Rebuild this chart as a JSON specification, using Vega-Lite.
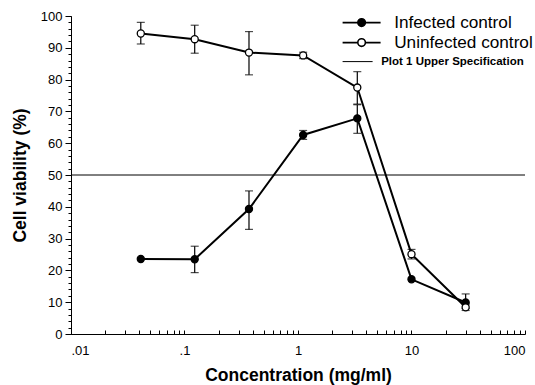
{
  "$schema": "https://vega.github.io/schema/vega-lite/v6.json",
  "width": 454,
  "height": 318,
  "autosize": {"type": "none"},
  "padding": {"left": 71, "top": 16, "right": 10, "bottom": 51},
  "background": "white",
  "config": {
    "view": {"stroke": null},
    "font": "Liberation Sans",
    "axis": {"labelFont": "Liberation Sans", "titleFont": "Liberation Sans", "domainColor": "black", "tickColor": "black", "labelColor": "black", "titleColor": "black", "grid": false}
  },
  "resolve": {"axis": {"y": "independent"}},
  "datasets": {
    "main": [
      {"series": "Infected control", "conc": 0.0412, "v": 23.6, "lo": null, "hi": null},
      {"series": "Infected control", "conc": 0.123, "v": 23.5, "lo": 19.3, "hi": 27.6},
      {"series": "Infected control", "conc": 0.37, "v": 39.3, "lo": 32.9, "hi": 45.0},
      {"series": "Infected control", "conc": 1.11, "v": 62.6, "lo": 61.2, "hi": 64.0},
      {"series": "Infected control", "conc": 3.33, "v": 67.8, "lo": 63.1, "hi": 72.1},
      {"series": "Infected control", "conc": 10, "v": 17.2, "lo": null, "hi": null},
      {"series": "Infected control", "conc": 30, "v": 9.9, "lo": 8.0, "hi": 12.6},
      {"series": "Uninfected control", "conc": 0.0412, "v": 94.5, "lo": 91.2, "hi": 98.0},
      {"series": "Uninfected control", "conc": 0.123, "v": 92.7, "lo": 88.3, "hi": 97.1},
      {"series": "Uninfected control", "conc": 0.37, "v": 88.5, "lo": 81.5, "hi": 95.1},
      {"series": "Uninfected control", "conc": 1.11, "v": 87.6, "lo": 86.6, "hi": 88.6},
      {"series": "Uninfected control", "conc": 3.33, "v": 77.5, "lo": 72.3, "hi": 82.5},
      {"series": "Uninfected control", "conc": 10, "v": 25.1, "lo": 23.6, "hi": 26.6},
      {"series": "Uninfected control", "conc": 30, "v": 8.4, "lo": 7.4, "hi": 9.4}
    ],
    "spec": [{"level": 50}]
  },
  "layer": [
    {
      "data": {"name": "spec"},
      "mark": {"type": "rule", "color": "black", "strokeWidth": 1},
      "encoding": {
        "y": {"field": "level", "type": "quantitative", "scale": {"domain": [0, 100]},
          "axis": {"orient": "left", "values": [0,2,4,6,8,12,14,16,18,22,24,26,28,32,34,36,38,42,44,46,48,52,54,56,58,62,64,66,68,72,74,76,78,82,84,86,88,92,94,96,98], "labels": false, "tickSize": 3, "title": null, "domain": true}}
      }
    },
    {
      "data": {"name": "main"},
      "transform": [{"filter": "datum.lo != null"}],
      "mark": {"type": "errorbar", "color": "black", "thickness": 1.2, "ticks": {"size": 8, "thickness": 1.2, "color": "black"}},
      "encoding": {
        "x": {"field": "conc", "type": "quantitative"},
        "y": {"field": "lo", "type": "quantitative", "axis": null},
        "y2": {"field": "hi"}
      }
    },
    {
      "data": {"name": "main"},
      "mark": {"type": "line", "color": "black", "strokeWidth": 2},
      "encoding": {
        "x": {"field": "conc", "type": "quantitative"},
        "y": {"field": "v", "type": "quantitative", "axis": null},
        "detail": {"field": "series"}
      }
    },
    {
      "data": {"name": "main"},
      "mark": {"type": "point", "shape": "circle", "filled": true, "stroke": "black", "strokeWidth": 1.3, "size": 50, "opacity": 1},
      "encoding": {
        "x": {"field": "conc", "type": "quantitative",
          "scale": {"type": "log", "domain": [0.01, 100]},
          "axis": {"values": [0.01,0.02,0.03,0.04,0.05,0.06,0.07,0.08,0.09,0.1,0.2,0.3,0.4,0.5,0.6,0.7,0.8,0.9,1,2,3,4,5,6,7,8,9,10,20,30,40,50,60,70,80,90,100],
            "labelExpr": "datum.value == 0.01 ? '.01' : datum.value == 0.1 ? '.1' : datum.value == 1 ? '1' : datum.value == 10 ? '10' : datum.value == 100 ? '100' : ''",
            "tickSize": -4, "labelPadding": 14, "labelFontSize": 13, "labelOverlap": false,
            "title": "Concentration (mg/ml)", "titleFontSize": 17.5, "titleFontWeight": "bold", "titlePadding": 9}},
        "y": {"field": "v", "type": "quantitative", "scale": {"domain": [0, 100]},
          "axis": {"orient": "left", "values": [0,10,20,30,40,50,60,70,80,90,100], "tickSize": 6, "labelFontSize": 13, "labelPadding": 3,
            "title": "Cell viability (%)", "titleFontSize": 17.5, "titleFontWeight": "bold", "titlePadding": 11}},
        "fill": {"field": "series", "type": "nominal",
          "scale": {"domain": ["Infected control", "Uninfected control", "Plot 1 Upper Specification"], "range": ["black", "white", "black"]},
          "legend": {
            "title": null, "orient": "none", "legendX": 282, "legendY": -2,
            "symbolSize": 1444, "symbolStrokeColor": "black", "symbolStrokeWidth": 1.5, "labelOffset": 24, "labelLimit": 300,
            "labelFont": "Liberation Sans", "labelColor": "black", "labelFontSize": 17, "rowPadding": 2,
            "encoding": {
              "symbols": {
                "shape": {"value": {"expr": "datum.value === 'Plot 1 Upper Specification' ? 'M-1,0H0.58' : 'M-1,0H-0.2M0.2,0H1M0.2,0A0.2,0.2 0 1,1 -0.2,0A0.2,0.2 0 1,1 0.2,0Z'"}},
                "stroke": {"value": "black"},
                "strokeWidth": {"value": {"expr": "datum.value === 'Plot 1 Upper Specification' ? 1 : 1.6"}}
              },
              "labels": {
                "fontSize": {"value": {"expr": "datum.value === 'Plot 1 Upper Specification' ? 11.5 : 17.2"}},
                "fontWeight": {"value": {"expr": "datum.value === 'Plot 1 Upper Specification' ? 'bold' : 'normal'"}},
                "dx": {"value": {"expr": "datum.value === 'Plot 1 Upper Specification' ? -13 : 0"}}
              }
            }
          }}
      }
    }
  ]
}
